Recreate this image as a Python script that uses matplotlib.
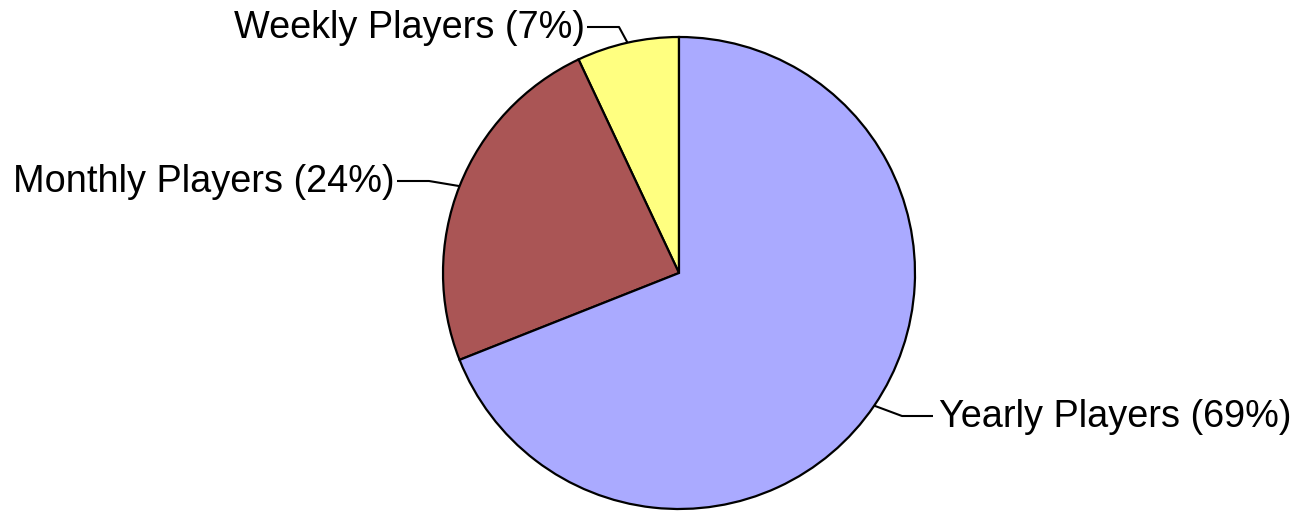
import numpy as np
import matplotlib.pyplot as plt

plt.rcParams['font.family'] = ['Liberation Sans', 'DejaVu Sans']

categories = ['Weekly Players', 'Monthly Players', 'Yearly Players']
shares = [7, 24, 69]
colors = ['#FFFF80', '#AA5555', '#AAAAFF']

W, H = 1310, 511
fig = plt.figure(figsize=(W / 100, H / 100), dpi=100)
ax = fig.add_axes([0, 0, 1, 1])

cx, cy, r = 679, H - 273, 236
wedges, _ = ax.pie(shares, colors=colors, startangle=90, counterclock=True,
                   center=(cx, cy), radius=r,
                   wedgeprops=dict(edgecolor='black', linewidth=1.6))
ax.set_xlim(0, W)
ax.set_ylim(0, H)
ax.set_aspect('equal')
ax.axis('off')

# label layout: (elbow x, line y in px from top, text side)
layout = {
    'Weekly Players': (619, 27, 'left'),
    'Monthly Players': (429, 181, 'left'),
    'Yearly Players': (902, 416, 'right'),
}

for w, name, pct in zip(wedges, categories, shares):
    ang = np.deg2rad((w.theta1 + w.theta2) / 2)
    ex, ey = cx + r * np.cos(ang), cy + r * np.sin(ang)
    elbow_x, ly, side = layout[name]
    ly = H - ly
    if side == 'left':
        end_x = elbow_x - 32
        tx, ha = end_x - 2, 'right'
    else:
        end_x = elbow_x + 31
        tx, ha = end_x + 6, 'left'
    ax.plot([ex, elbow_x, end_x], [ey, ly, ly], color='black', lw=1.5,
            solid_capstyle='butt')
    ax.text(tx, ly - 1, f'{name} ({pct}%)', ha=ha, va='center', fontsize=27.3)

fig.savefig('out.png', dpi=100)
